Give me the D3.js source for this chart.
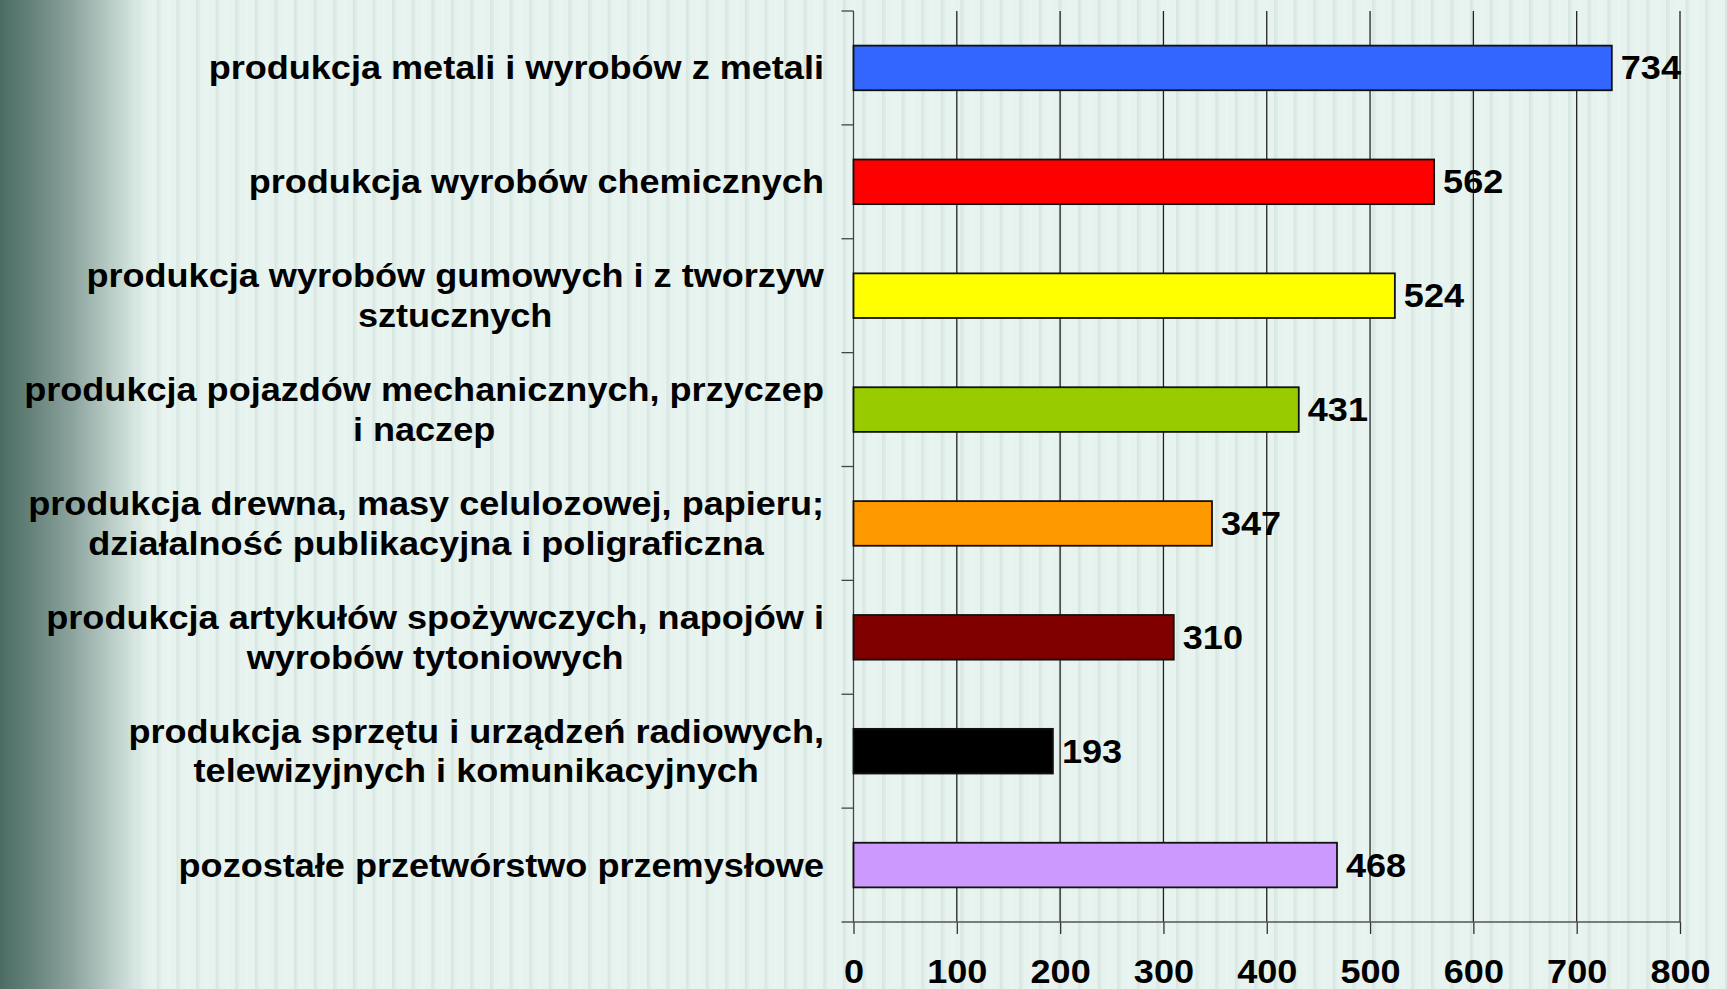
<!DOCTYPE html>
<html>
<head>
<meta charset="utf-8">
<script src="https://cdn.jsdelivr.net/npm/d3@7"></script>
<style>
html,body{margin:0;padding:0;background:#e6f2ee;overflow:hidden;}
svg{display:block;}
text{font-family:"Liberation Sans",Arial,Helvetica,sans-serif;font-weight:bold;fill:#000;}
</style>
</head>
<body>
<svg id="chart" width="1727" height="989"></svg>
<script>
const categories = [
  "produkcja metali i wyrobów z metali",
  "produkcja wyrobów chemicznych",
  "produkcja wyrobów gumowych i z tworzyw\nsztucznych",
  "produkcja pojazdów mechanicznych, przyczep\ni naczep",
  "produkcja drewna, masy celulozowej, papieru;\ndziałalność publikacyjna i poligraficzna",
  "produkcja artykułów spożywczych, napojów i\nwyrobów tytoniowych",
  "produkcja sprzętu i urządzeń radiowych,\ntelewizyjnych i komunikacyjnych",
  "pozostałe przetwórstwo przemysłowe"
];
const values = [734, 562, 524, 431, 347, 310, 193, 468];
const barColors = ["#3366ff", "#ff0000", "#ffff00", "#99cc00", "#ff9900", "#800000", "#000000", "#cc99ff"];
const xTicks = [0, 100, 200, 300, 400, 500, 600, 700, 800];

const W = 1727, H = 989;
const plot = {left: 853.5, right: 1680, top: 11, bottom: 922};
const FS = 32.5, SX = 1.11;

const svg = d3.select("#chart");
const defs = svg.append("defs");

// background stripes
const pat = defs.append("pattern").attr("id", "stripes").attr("patternUnits", "userSpaceOnUse")
  .attr("width", 19.6).attr("height", 10);
pat.append("rect").attr("width", 19.6).attr("height", 10).attr("fill", "#e7f3ef");
pat.append("rect").attr("x", 0).attr("width", 2.5).attr("height", 10).attr("fill", "#d9e7e2");
pat.append("rect").attr("x", 2.5).attr("width", 1.5).attr("height", 10).attr("fill", "#e0ece8");
pat.append("rect").attr("x", 10).attr("width", 3).attr("height", 10).attr("fill", "#eaf5f2");

const grad = defs.append("linearGradient").attr("id", "leftfade")
  .attr("x1", 0).attr("x2", 1).attr("y1", 0).attr("y2", 0);
[[0, "#4b6c64", 1], [0.2, "#66837b", 1], [0.45, "#8ca39d", 1], [0.65, "#b1c5bf", 1], [0.82, "#d1e1dc", 1], [1, "#e6f2ee", 0]]
  .forEach(([o, c, a]) => grad.append("stop").attr("offset", o).attr("stop-color", c).attr("stop-opacity", a));

svg.append("rect").attr("width", W).attr("height", H).attr("fill", "url(#stripes)");
svg.append("rect").attr("width", 160).attr("height", H).attr("fill", "url(#leftfade)");

const x = d3.scaleLinear().domain([0, 800]).range([plot.left, plot.right]);
const y = d3.scaleBand().domain(categories).range([plot.top, plot.bottom]).padding(0);
const bw = y.bandwidth();
const barH = bw * 0.392;

// gridlines
svg.append("g").selectAll("line").data(xTicks.filter(d => d > 0)).join("line")
  .attr("x1", d => x(d)).attr("x2", d => x(d))
  .attr("y1", plot.top).attr("y2", plot.bottom)
  .attr("stroke", "#222").attr("stroke-width", 1.3);

// bottom axis
const xAxis = svg.append("g").attr("transform", `translate(0,${plot.bottom})`)
  .call(d3.axisBottom(x).tickValues(xTicks).tickSizeInner(12).tickSizeOuter(0).tickFormat(d3.format("d")));
xAxis.select(".domain").remove();
xAxis.selectAll(".tick line").attr("stroke", "#333").attr("stroke-width", 1.3);
xAxis.selectAll(".tick text").remove();
xAxis.append("line").attr("x1", plot.left - 12).attr("x2", plot.right).attr("y1", 0).attr("y2", 0)
  .attr("stroke", "#555").attr("stroke-width", 1.5);
xAxis.selectAll(".tick").append("text")
  .attr("transform", `translate(0,61) scale(${SX},1)`)
  .attr("text-anchor", "middle")
  .style("font-size", FS + "px")
  .text(d => d);

// left axis
const yAxisG = svg.append("g");
yAxisG.append("line").attr("x1", plot.left).attr("x2", plot.left).attr("y1", plot.top).attr("y2", plot.bottom)
  .attr("stroke", "#444").attr("stroke-width", 1.3);
const boundaries = categories.map(c => y(c)).concat([plot.bottom]);
yAxisG.selectAll("line.tk").data(boundaries.slice(0, -1)).join("line").attr("class", "tk")
  .attr("x1", plot.left - 12).attr("x2", plot.left).attr("y1", d => d).attr("y2", d => d)
  .attr("stroke", "#444").attr("stroke-width", 1.3);

// bars
svg.append("g").selectAll("rect").data(categories).join("rect")
  .attr("x", x(0))
  .attr("y", d => y(d) + (bw - barH) / 2)
  .attr("width", (d, i) => x(values[i]) - x(0))
  .attr("height", barH)
  .attr("fill", (d, i) => barColors[i])
  .attr("stroke", "#111").attr("stroke-width", 1.8);

// value labels
svg.append("g").selectAll("text").data(categories).join("text")
  .attr("transform", (d, i) => `translate(${x(values[i]) + 9},${y(d) + bw / 2 + 11.5}) scale(${SX},1)`)
  .style("font-size", FS + "px")
  .text((d, i) => values[i]);

// category labels
const labelRight = 824;
const lineH = 39.5;
const lg = svg.append("g");
categories.forEach(c => {
  const lines = c.split("\n");
  const g = lg.append("g");
  const texts = lines.map(l => g.append("text").style("font-size", FS + "px").attr("text-anchor", "middle").text(l));
  const maxW = d3.max(texts, t => t.node().getComputedTextLength()) * SX;
  const cx = labelRight - maxW / 2;
  const cy = y(c) + bw / 2;
  texts.forEach((t, i) => {
    const yy = cy + 11.5 + (i - (lines.length - 1) / 2) * lineH;
    t.attr("transform", `translate(${cx},${yy}) scale(${SX},1)`);
  });
});
</script>
</body>
</html>
